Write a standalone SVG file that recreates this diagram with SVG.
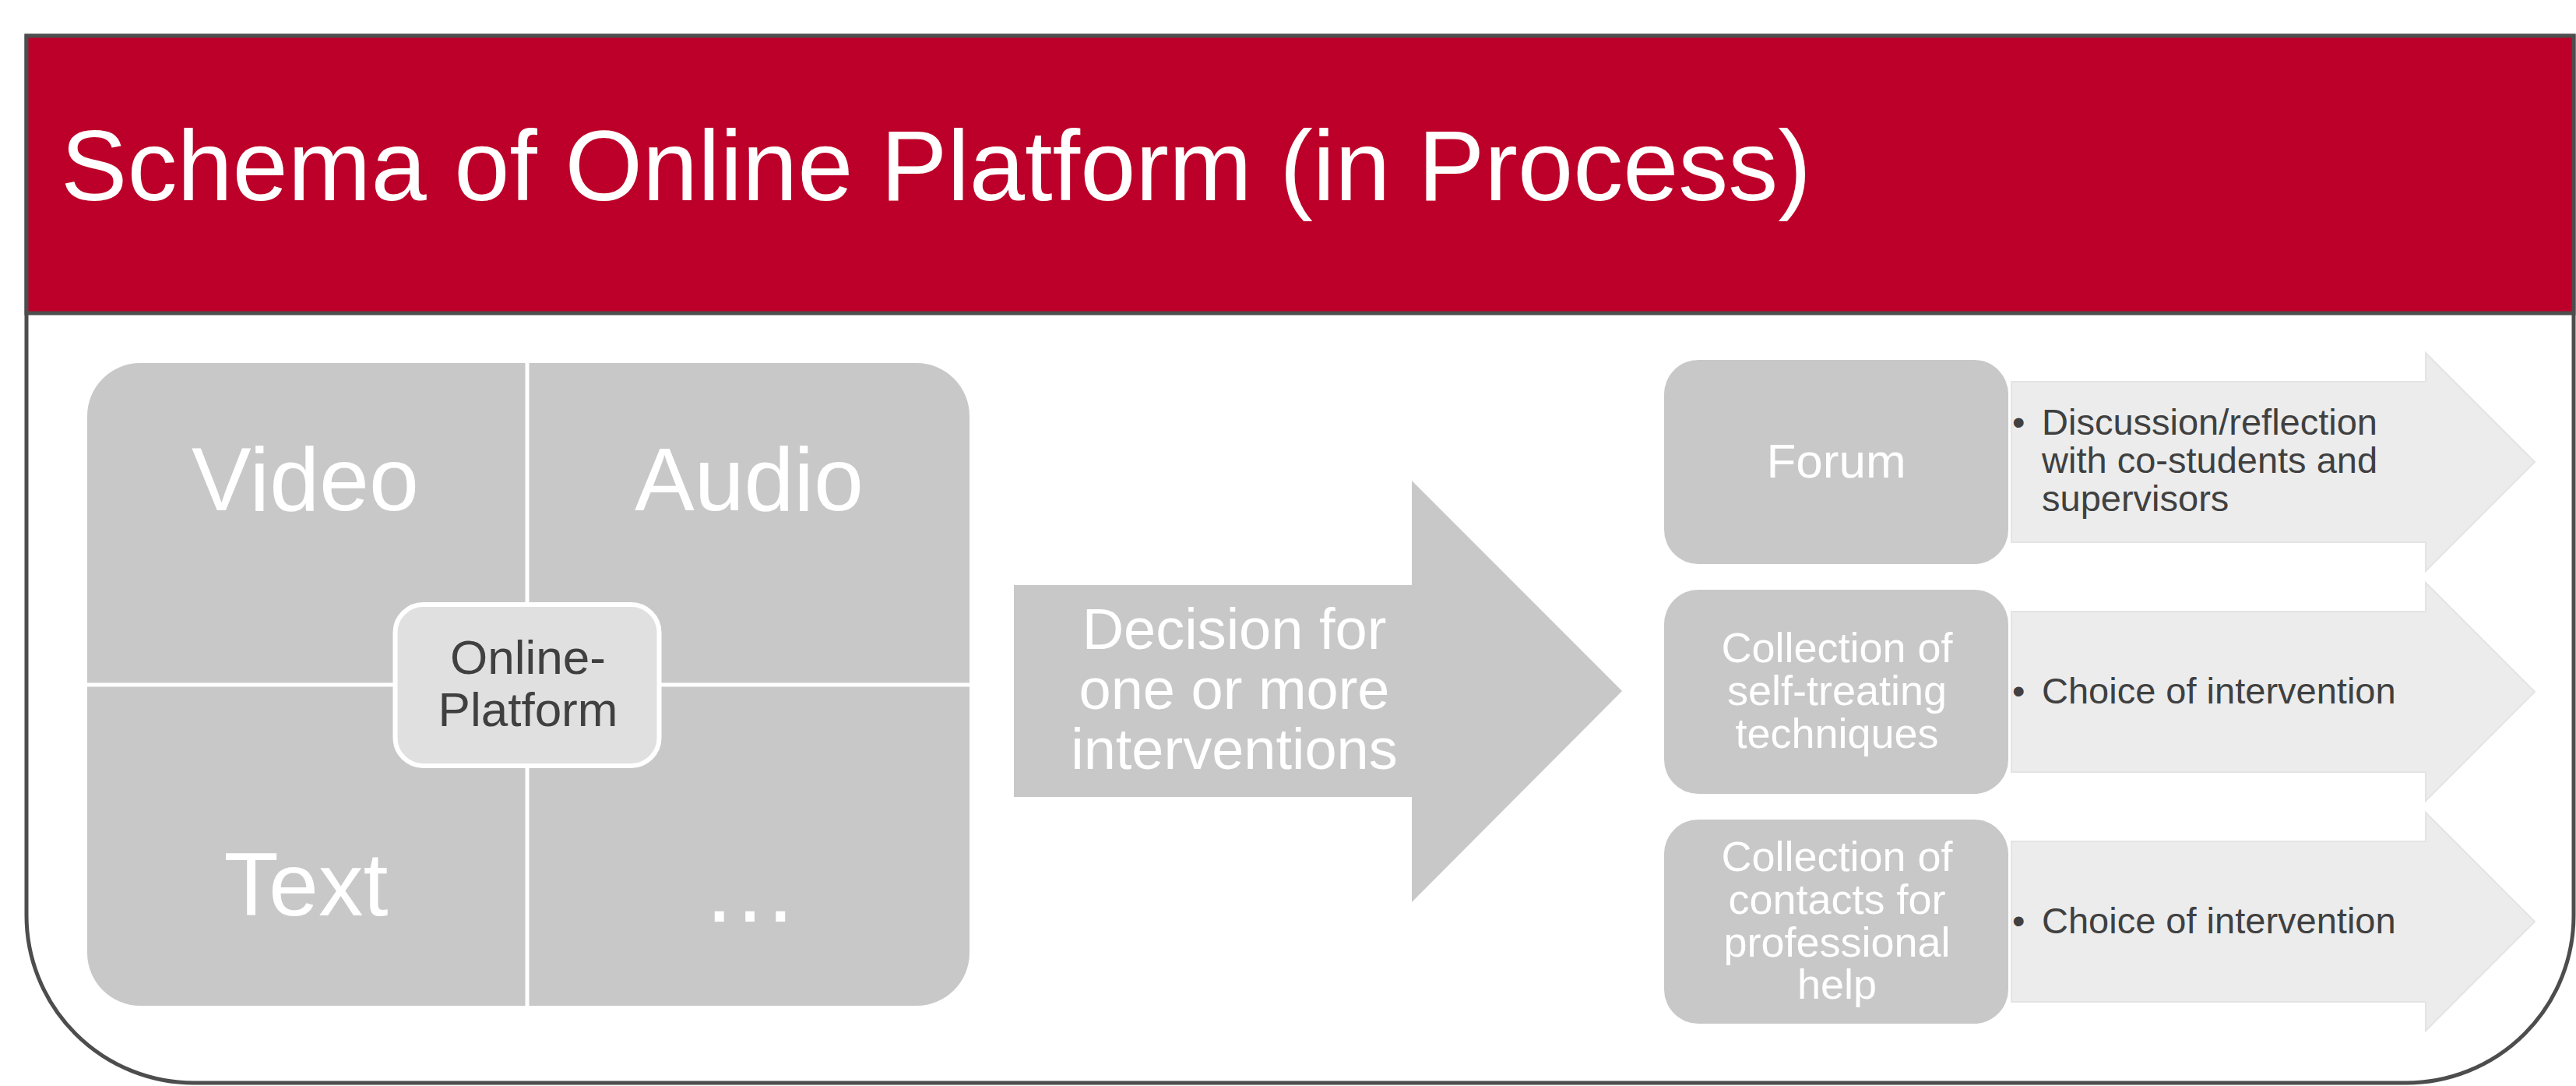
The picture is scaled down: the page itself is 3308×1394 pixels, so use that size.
<svg xmlns="http://www.w3.org/2000/svg" width="3308" height="1394" viewBox="0 0 3308 1394">
  <style>
    text { font-family: "Liberation Sans", Arial, sans-serif; }
    .frame { fill: #ffffff; stroke: #4d4d4d; stroke-width: 5; }
    .band { fill: #bd0029; stroke: #4d4d4d; stroke-width: 5; }
    .title { fill: #ffffff; font-size: 128px; }
    .tile { fill: #c8c8c8; }
    .sep { stroke: #ffffff; stroke-width: 5; }
    .hub { fill: #e0e0e0; stroke: #ffffff; stroke-width: 6; }
    .big { fill: #ffffff; font-size: 115px; text-anchor: middle; }
    .hubtxt { fill: #404040; font-size: 62px; text-anchor: middle; }
    .dec { fill: #ffffff; font-size: 74px; text-anchor: middle; }
    .box { fill: #c8c8c8; }
    .boxtxt { fill: #ffffff; font-size: 54px; text-anchor: middle; }
    .lane { fill: #ececec; stroke: #e4e4e4; stroke-width: 2; }
    .item { fill: #404040; font-size: 47px; }
  </style>

  <!-- slide frame: square top, rounded bottom corners -->
  <path class="frame" d="M34,46 H3305 V1175 A215,215 0 0 1 3090,1390 H249 A215,215 0 0 1 34,1175 Z"/>

  <!-- title band -->
  <g id="title">
    <rect class="band" x="34" y="46" width="3271" height="356"/>
    <text class="title" x="78" y="257">Schema of Online Platform (in Process)</text>
  </g>

  <!-- media matrix around the platform hub -->
  <g id="media-matrix">
    <rect class="tile" x="112" y="466" width="1133" height="825" rx="68" ry="68"/>
    <line class="sep" x1="677" y1="466" x2="677" y2="1291"/>
    <line class="sep" x1="112" y1="879" x2="1245" y2="879"/>
    <text class="big" x="392" y="655">Video</text>
    <text class="big" x="962" y="655">Audio</text>
    <text class="big" x="393" y="1175">Text</text>
    <text class="big" x="963" y="1183" style="font-size:124px">…</text>
  </g>

  <g id="online-platform">
    <rect class="hub" x="507.5" y="776" width="339" height="207" rx="36" ry="36"/>
    <text class="hubtxt" x="678" y="865">Online-</text>
    <text class="hubtxt" x="678" y="932">Platform</text>
  </g>

  <!-- decision arrow -->
  <g id="decision">
    <polygon class="tile" points="1302,751 1813,751 1813,617 2083,887 1813,1158 1813,1023 1302,1023"/>
    <text class="dec" x="1585" y="833">Decision for</text>
    <text class="dec" x="1585" y="910">one or more</text>
    <text class="dec" x="1585" y="987">interventions</text>
  </g>

  <!-- description arrows behind the option boxes -->
  <g id="connectors">
    <polygon class="lane" points="2583,490 3115,490 3115,453 3255,593 3115,733 3115,696 2583,696"/>
    <polygon class="lane" points="2583,785 3115,785 3115,748 3255,888 3115,1028 3115,991 2583,991"/>
    <polygon class="lane" points="2583,1080 3115,1080 3115,1043 3255,1183 3115,1323 3115,1286 2583,1286"/>
  </g>

  <g id="forum">
    <rect class="box" x="2137" y="462" width="442" height="262" rx="44" ry="44"/>
    <text class="boxtxt" x="2358" y="613" style="font-size:62px">Forum</text>
    <text class="item" x="2584" y="558">•</text>
    <text class="item" x="2622" y="558">Discussion/reflection</text>
    <text class="item" x="2622" y="607">with co-students and</text>
    <text class="item" x="2622" y="656">supervisors</text>
  </g>

  <g id="self-treating">
    <rect class="box" x="2137" y="757" width="442" height="262" rx="44" ry="44"/>
    <text class="boxtxt" x="2359" y="850">Collection of</text>
    <text class="boxtxt" x="2359" y="905">self-treating</text>
    <text class="boxtxt" x="2359" y="960">techniques</text>
    <text class="item" x="2584" y="903">•</text>
    <text class="item" x="2622" y="903">Choice of intervention</text>
  </g>

  <g id="professional-help">
    <rect class="box" x="2137" y="1052" width="442" height="262" rx="44" ry="44"/>
    <text class="boxtxt" x="2359" y="1118">Collection of</text>
    <text class="boxtxt" x="2359" y="1173">contacts for</text>
    <text class="boxtxt" x="2359" y="1228">professional</text>
    <text class="boxtxt" x="2359" y="1282">help</text>
    <text class="item" x="2584" y="1198">•</text>
    <text class="item" x="2622" y="1198">Choice of intervention</text>
  </g>
</svg>
